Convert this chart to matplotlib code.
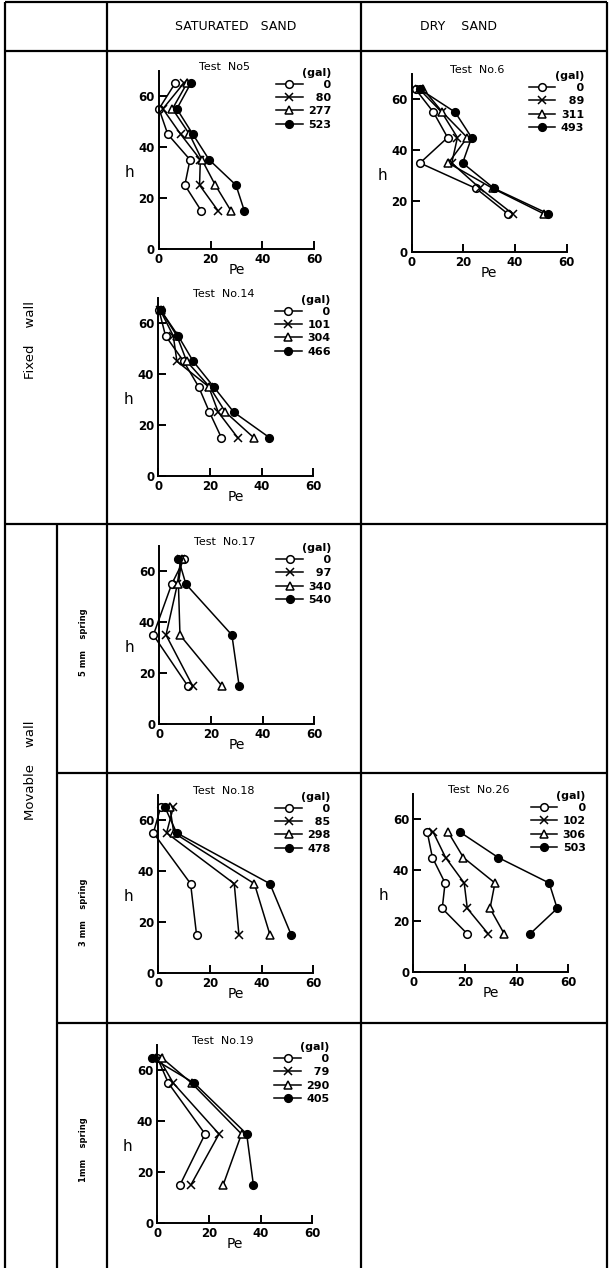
import matplotlib
matplotlib.use("Agg")
import matplotlib.pyplot as plt

plt.rcParams['font.family'] = ['DejaVu Sans']

# ---------------- data ----------------
t5_h = [65, 55, 45, 35, 25, 15]
t5_gal = ['0', '80', '277', '523']
t5_pe = [[6.2, 0.0, 3.4, 12.0, 10.0, 16.3],
         [9.5, 1.5, 8.4, 16.0, 15.7, 22.8],
         [10.8, 5.2, 11.8, 16.6, 21.8, 27.8],
         [12.3, 6.9, 13.1, 19.4, 29.8, 33.0]]

t6_h = [64, 55, 45, 35, 25, 15]
t6_gal = ['0', '89', '311', '493']
t6_pe = [[1.5, 8.4, 13.9, 3.2, 24.9, 37.2],
         [3.0, 11.6, 17.7, 15.5, 26.5, 39.1],
         [4.5, 11.9, 21.5, 14.2, 31.4, 51.2],
         [3.2, 16.8, 23.2, 19.7, 31.9, 52.9]]

t14_h = [65, 55, 45, 35, 25, 15]
t14_gal = ['0', '101', '304', '466']
t14_pe = [[0.3, 2.8, 9.8, 15.6, 19.8, 24.4],
          [0.8, 5.8, 7.2, 19.5, 23.2, 30.7],
          [1.0, 7.2, 11.0, 19.8, 26.0, 36.9],
          [1.0, 7.7, 13.5, 21.4, 29.2, 43.0]]

t17_h = [65, 55, 35, 15]
t17_gal = ['0', '97', '340', '540']
t17_pe = [[9.7, 4.8, -2.3, 11.0],
          [8.3, 7.0, 2.6, 12.9],
          [8.7, 7.4, 8.0, 24.2],
          [7.4, 10.3, 28.1, 30.9]]

t18_h = [65, 55, 35, 15]
t18_gal = ['0', '85', '298', '478']
t18_pe = [[0.9, -1.9, 12.5, 14.8],
          [5.8, 3.2, 29.4, 31.2],
          [4.5, 6.0, 37.2, 43.2],
          [2.6, 7.1, 43.2, 51.4]]

t26_h = [55, 45, 35, 25, 15]
t26_gal = ['0', '102', '306', '503']
t26_pe = [[5.4, 7.4, 12.3, 11.2, 20.9],
          [7.7, 12.5, 19.7, 20.9, 29.0],
          [13.5, 19.4, 31.6, 29.7, 35.2],
          [18.1, 32.9, 52.6, 55.7, 45.2]]

t19_h = [65, 55, 35, 15]
t19_gal = ['0', '79', '290', '405']
t19_pe = [[0.0, 4.3, 18.5, 8.8],
          [0.5, 6.2, 23.9, 13.0],
          [1.7, 13.3, 32.6, 25.5],
          [-2.2, 14.3, 34.6, 37.2]]

x_ticks = [0, 20, 40, 60]
y_ticks = [0, 20, 40, 60]

# ---------------- figure ----------------
W, H = 609, 1269
DPI = 100
fig = plt.figure(figsize=(W / DPI, H / DPI), dpi=DPI)
fig.patch.set_facecolor('white')

bg = fig.add_axes([0, 0, 1, 1])
bg.set_xlim(0, W)
bg.set_ylim(H, 0)
bg.axis('off')

lw_tab = 1.6
def hline(y, x1, x2):
    bg.plot([x1, x2], [y, y], color='black', lw=lw_tab, solid_capstyle='butt')
def vline(x, y1, y2):
    bg.plot([x, x], [y1, y2], color='black', lw=lw_tab, solid_capstyle='butt')

L, R, T, B = 5, 607, 2, 1268
hline(T, L, R)
hline(51, L, R)
hline(524, L, R)
hline(773, 57, R)
hline(1023, 57, R)
vline(L, T, B)
vline(R, T, B)
vline(107, T, B)
vline(361, T, B)
vline(57, 524, B)

bg.text(236, 27, 'SATURATED   SAND', ha='center', va='center', fontsize=9)
bg.text(458, 27, 'DRY    SAND', ha='center', va='center', fontsize=9)
bg.text(30, 340, 'Fixed    wall', ha='center', va='center', rotation=90, fontsize=9.5)
bg.text(30, 770, 'Movable    wall', ha='center', va='center', rotation=90, fontsize=9.5)
bg.text(84, 642, '5 mm    spring', ha='center', va='center', rotation=90, fontsize=6, fontweight='bold')
bg.text(84, 912, '3 mm    spring', ha='center', va='center', rotation=90, fontsize=6, fontweight='bold')
bg.text(84, 1150, '1mm    spring', ha='center', va='center', rotation=90, fontsize=6, fontweight='bold')

markers = [dict(marker='o', mfc='white', mec='black', ms=5.5, mew=1.1),
           dict(marker='x', mfc='black', mec='black', ms=5.5, mew=1.1),
           dict(marker='^', mfc='white', mec='black', ms=6, mew=1.1),
           dict(marker='o', mfc='black', mec='black', ms=5.5, mew=1.1)]

XPX = 155.0   # pixels for Pe 0..60
YPX = 178.0   # pixels for h 0..70

def panel(x0, y0, title, h, pe, gal):
    ax = fig.add_axes([x0 / W, 1 - y0 / H, XPX / W, YPX / H])
    ax.set_xlim(0, 60)
    ax.set_ylim(0, 70)
    ax.patch.set_alpha(0)
    for s in ['top', 'right']:
        ax.spines[s].set_visible(False)
    for s in ['left', 'bottom']:
        ax.spines[s].set_linewidth(1.4)
    ax.set_xticks(x_ticks)
    ax.set_yticks(y_ticks)
    ax.set_xticklabels([str(v) for v in x_ticks], fontweight='bold')
    ax.set_yticklabels([str(v) for v in y_ticks], fontweight='bold')
    ax.tick_params(axis='both', direction='in', length=6, width=1.4,
                   labelsize=8.5, pad=3)
    ax.tick_params(axis='y', pad=3)
    for i, vals in enumerate(pe):
        lab = '\u2007' * (3 - len(gal[i])) + gal[i]
        ax.plot(vals, h, color='black', lw=1.1, clip_on=False,
                label=lab, **markers[i])
    ax.text(25.5, 71.5, title, ha='center', va='center', fontsize=8)
    ax.set_xlabel('Pe', fontsize=10, labelpad=-2)
    ax.text(-11.5, 30, 'h', ha='center', va='center', fontsize=11)
    leg = ax.legend(loc='upper right', bbox_to_anchor=(66.8, 71.0),
                    bbox_transform=ax.transData, frameon=False,
                    title='(gal)', alignment='right',
                    prop={'size': 8, 'weight': 'bold'},
                    title_fontproperties={'size': 8, 'weight': 'bold'},
                    handlelength=2.4, handletextpad=0.5,
                    labelspacing=0.3, borderpad=0, borderaxespad=0,
                    numpoints=1)
    leg._legend_box.sep = 1
    return ax

panel(159, 248.7, 'Test  No5', t5_h, t5_pe, t5_gal)
panel(411.7, 252, 'Test  No.6', t6_h, t6_pe, t6_gal)
panel(158.3, 475.7, 'Test  No.14', t14_h, t14_pe, t14_gal)
panel(159.3, 724, 'Test  No.17', t17_h, t17_pe, t17_gal)
panel(158.3, 972.7, 'Test  No.18', t18_h, t18_pe, t18_gal)
panel(413.3, 972, 'Test  No.26', t26_h, t26_pe, t26_gal)
panel(157.3, 1223, 'Test  No.19', t19_h, t19_pe, t19_gal)

fig.savefig('out.png', dpi=DPI, facecolor='white')
